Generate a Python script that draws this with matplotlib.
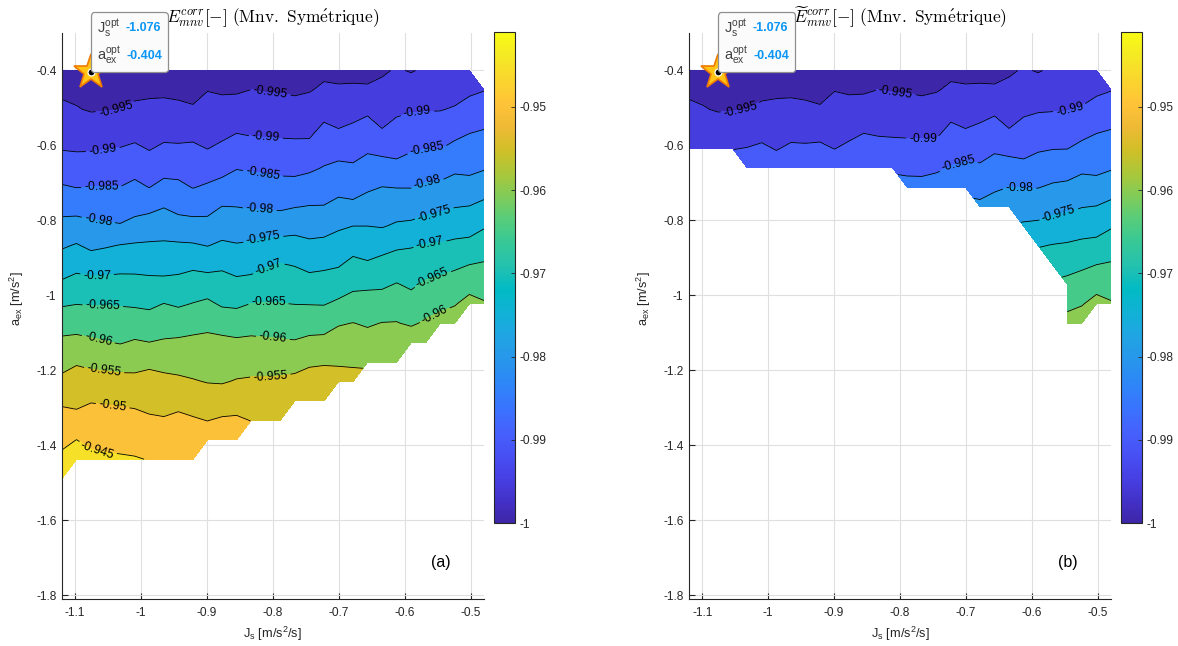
import numpy as np
import matplotlib
matplotlib.use('Agg')
import matplotlib.pyplot as plt
from matplotlib.colors import LinearSegmentedColormap, Normalize
from matplotlib.cm import ScalarMappable
from matplotlib.ticker import FuncFormatter
from matplotlib.offsetbox import TextArea, HPacker, VPacker, AnnotationBbox

plt.rcParams['font.family'] = ['Liberation Sans', 'DejaVu Sans']
plt.rcParams['mathtext.fontset'] = 'custom'
plt.rcParams['mathtext.rm'] = 'Liberation Sans'
plt.rcParams['mathtext.it'] = 'Liberation Sans:italic'
plt.rcParams['mathtext.bf'] = 'Liberation Sans:bold'

# grid of the sweep
js_min, js_max, n_js = -1.12, -0.48, 30
aex_top, aex_bottom, n_aex = -0.4, -1.8, 28

# optimum
js_opt = -1.076
aex_opt = -0.404

# contour line positions (a_ex) at each J_s column
levels = [-0.995, -0.99, -0.985, -0.98, -0.975, -0.97, -0.965, -0.96, -0.955, -0.95, -0.945]
line_995 = [-0.487, -0.499, -0.522, -0.515, -0.504, -0.493, -0.485, -0.485, -0.491, -0.499,
            -0.458, -0.475, -0.475, -0.451, -0.464, -0.468, -0.480, -0.464, -0.440, -0.443,
            -0.443, -0.446, -0.424, -0.390, -0.411, -0.385, -0.370, -0.360, -0.350, -0.350]
line_990 = [-0.615, -0.619, -0.616, -0.611, -0.605, -0.593, -0.615, -0.593, -0.595, -0.586,
            -0.611, -0.590, -0.567, -0.580, -0.581, -0.582, -0.582, -0.586, -0.535, -0.555,
            -0.538, -0.517, -0.555, -0.526, -0.512, -0.511, -0.509, -0.497, -0.472, -0.455]
line_985 = [-0.704, -0.713, -0.710, -0.710, -0.710, -0.689, -0.713, -0.691, -0.691, -0.716,
            -0.700, -0.689, -0.664, -0.669, -0.675, -0.682, -0.686, -0.673, -0.655, -0.639,
            -0.647, -0.622, -0.628, -0.642, -0.619, -0.611, -0.610, -0.587, -0.566, -0.557]
line_980 = [-0.790, -0.789, -0.797, -0.805, -0.811, -0.797, -0.780, -0.766, -0.790, -0.791,
            -0.791, -0.762, -0.764, -0.771, -0.773, -0.778, -0.766, -0.760, -0.760, -0.740,
            -0.749, -0.726, -0.710, -0.713, -0.714, -0.700, -0.694, -0.676, -0.686, -0.669]
line_975 = [-0.877, -0.861, -0.885, -0.873, -0.864, -0.858, -0.855, -0.853, -0.855, -0.860,
            -0.869, -0.855, -0.861, -0.855, -0.846, -0.842, -0.837, -0.849, -0.844, -0.826,
            -0.815, -0.815, -0.822, -0.806, -0.802, -0.789, -0.780, -0.766, -0.761, -0.744]
line_970 = [-0.959, -0.940, -0.944, -0.944, -0.941, -0.942, -0.947, -0.953, -0.944, -0.931,
            -0.940, -0.931, -0.950, -0.947, -0.926, -0.913, -0.922, -0.940, -0.933, -0.926,
            -0.893, -0.909, -0.888, -0.877, -0.871, -0.863, -0.858, -0.850, -0.847, -0.822]
line_965 = [-1.030, -1.024, -1.027, -1.027, -1.028, -1.033, -1.039, -1.021, -1.033, -1.020,
            -1.006, -1.036, -1.037, -1.021, -1.018, -1.020, -1.024, -1.025, -1.027, -1.011,
            -0.992, -0.983, -0.985, -0.966, -0.987, -0.957, -0.944, -0.931, -0.918, -0.908]
line_960 = [-1.104, -1.104, -1.113, -1.122, -1.131, -1.117, -1.125, -1.117, -1.109, -1.100,
            -1.093, -1.095, -1.107, -1.104, -1.110, -1.116, -1.119, -1.107, -1.104, -1.079,
            -1.072, -1.084, -1.071, -1.069, -1.086, -1.064, -1.055, -1.030, -1.008, -1.020]
line_955 = [-1.211, -1.184, -1.196, -1.199, -1.203, -1.206, -1.190, -1.202, -1.215, -1.224,
            -1.235, -1.240, -1.224, -1.217, -1.213, -1.209, -1.206, -1.188, -1.184, -1.195,
            -1.202, -1.205, -1.200, -1.200, -1.150, -1.150, -1.100, -1.100, -1.045, -1.045]
line_950 = [-1.295, -1.311, -1.286, -1.291, -1.295, -1.300, -1.317, -1.320, -1.300, -1.317,
            -1.335, -1.320, -1.317, -1.336, -1.360, -1.360, -1.310, -1.310, -1.310, -1.260,
            -1.260, -1.230, -1.230, -1.230, -1.180, -1.180, -1.130, -1.130, -1.070, -1.070]
line_945 = [-1.393, -1.384, -1.393, -1.397, -1.402, -1.411, -1.440, -1.490, -1.490, -1.490,
            -1.440, -1.440, -1.440, -1.400, -1.400, -1.400, -1.350, -1.350, -1.350, -1.300,
            -1.300, -1.260, -1.260, -1.260, -1.210, -1.210, -1.160, -1.160, -1.100, -1.100]

# extent of the computed points (row index from the top, per J_s column)
left_first = [0] * 29 + [1]
left_last = [21, 20, 20, 20, 20, 20, 20, 20, 20, 20, 19, 19, 19, 18, 18, 18, 17, 17, 17, 16,
             16, 15, 15, 15, 14, 14, 13, 13, 12, 12]
right_first = [0] * 29 + [1]
right_last = [4, 4, 4, 4, 5, 5, 5, 5, 5, 5, 5, 5, 5, 5, 5, 6, 6, 6, 6, 6,
              7, 7, 7, 8, 9, 10, 13, 13, 12, 12]

clim = (-1.0, -0.941)

# MATLAB parula
parula = [(0.2422, 0.1504, 0.6603), (0.2647, 0.1978, 0.7952), (0.2783, 0.2559, 0.8991),
          (0.2810, 0.3228, 0.9579), (0.2699, 0.3892, 0.9906), (0.2206, 0.4603, 0.9973),
          (0.1786, 0.5289, 0.9682), (0.1540, 0.5902, 0.9218), (0.1248, 0.6459, 0.8883),
          (0.0689, 0.6948, 0.8394), (0.0067, 0.7312, 0.7660), (0.1408, 0.7584, 0.6842),
          (0.2161, 0.7843, 0.5923), (0.3406, 0.8008, 0.4789), (0.5044, 0.7993, 0.3480),
          (0.6720, 0.7793, 0.2227), (0.8203, 0.7498, 0.1535), (0.9393, 0.7288, 0.2100),
          (0.9970, 0.7659, 0.2199), (0.9786, 0.8386, 0.1766), (0.9597, 0.9135, 0.1423),
          (0.9769, 0.9839, 0.0805)]
cmap = LinearSegmentedColormap.from_list('parula', parula, N=256)
norm = Normalize(*clim)

js = np.linspace(js_min, js_max, n_js)
aex = np.linspace(aex_top, aex_bottom, n_aex)
lines = np.array([line_995, line_990, line_985, line_980, line_975, line_970,
                  line_965, line_960, line_955, line_950, line_945])

# field on the grid from the level lines
Z = np.empty((n_aex, n_js))
for i in range(n_js):
    xp = np.concatenate(([-2.0], lines[::-1, i], [-0.2]))
    fp = np.concatenate(([-0.94], levels[::-1], [-1.0]))
    Z[:, i] = np.interp(aex, xp, fp)

fill_levels = [-1.0] + levels + [-0.94]
band_colors = [cmap(norm(v)) for v in fill_levels[:-1]]
k = np.arange(n_aex)[:, None]

left_labels = {-0.995: [-1.038, -0.804], -0.99: [-1.058, -0.811, -0.581],
               -0.985: [-1.06, -0.815, -0.566], -0.98: [-1.065, -0.82, -0.566],
               -0.975: [-0.815, -0.555], -0.97: [-1.067, -0.807, -0.562],
               -0.965: [-1.058, -0.807, -0.559], -0.96: [-1.065, -0.8, -0.553],
               -0.955: [-1.056, -0.804], -0.95: [-1.043], -0.945: [-1.065]}
right_labels = {-0.995: [-1.041, -0.807], -0.99: [-0.765, -0.542], -0.985: [-0.712],
                -0.98: [-0.619], -0.975: [-0.559]}

fmt = FuncFormatter(lambda v, p: '%g' % round(v, 3))
dark = '#262626'

fig = plt.figure(figsize=(11.78, 6.46), dpi=100)


def draw_panel(rect, cb_rect, first, last, title, tag, label_pos):
    ax = fig.add_axes(rect)
    valid = (k >= np.array(first)[None, :]) & (k <= np.array(last)[None, :])
    Zm = np.ma.masked_where(~valid, Z)
    ax.contourf(js, aex, Zm, levels=fill_levels, colors=band_colors, zorder=1)
    cs = ax.contour(js, aex, Zm, levels=levels, colors='k', linewidths=0.6,
                    linestyles='solid', zorder=2)
    manual = []
    for lev, xs in label_pos.items():
        row = lines[levels.index(lev)]
        for x in xs:
            manual.append((x, np.interp(x, js, row)))
    ax.clabel(cs, inline=True, inline_spacing=3, fontsize=8.8, fmt='%g', manual=manual)

    ax.set_xlim(-1.12, -0.48)
    ax.set_ylim(-1.81, -0.3)
    ax.set_xticks(np.round(np.arange(-1.1, -0.45, 0.1), 1))
    ax.set_yticks(np.round(np.arange(-1.8, -0.35, 0.2), 1))
    ax.xaxis.set_major_formatter(fmt)
    ax.yaxis.set_major_formatter(fmt)
    ax.grid(True, color='#DFDFDF', linewidth=0.8)
    ax.set_axisbelow(True)
    for s in ['top', 'right']:
        ax.spines[s].set_visible(False)
    for s in ['left', 'bottom']:
        ax.spines[s].set_color(dark)
        ax.spines[s].set_linewidth(0.8)
    ax.tick_params(direction='in', length=4, width=0.8, colors=dark, labelsize=8.6)
    ax.tick_params(axis='y', pad=4)
    ax.tick_params(axis='x', pad=6)
    ax.set_xlabel(r'J$_\mathrm{s}$ [m/s$^\mathrm{2}$/s]', fontsize=9.2, color=dark)
    ax.set_ylabel(r'a$_\mathrm{ex}$ [m/s$^\mathrm{2}$]', fontsize=9.2, color=dark)
    ax.yaxis.set_label_coords(-0.085, 0.53)
    ax.set_title(title, fontsize=12.5, math_fontfamily='cm', pad=8)
    ax.text(0.898, 0.065, tag, transform=ax.transAxes, fontsize=11.5,
            ha='center', va='center', color='k')

    ax.plot(js_opt, aex_opt, marker='*', ms=26, mfc='#FFC414', mec='#F07A00',
            mew=1.2, clip_on=False, zorder=6)
    ax.plot(js_opt, aex_opt, marker='o', ms=5, mfc='k', mec='w', mew=0.9,
            clip_on=False, zorder=7)

    lab = dict(color='#404040', fontsize=10.5)
    val = dict(color='#0A96F5', fontsize=9, weight='bold')
    row1 = HPacker(children=[TextArea(r'J$_\mathrm{s}^\mathrm{opt}$', textprops=lab),
                             TextArea('%.3f' % js_opt, textprops=val)],
                   align='center', pad=0, sep=4)
    row2 = HPacker(children=[TextArea(r'a$_\mathrm{ex}^\mathrm{opt}$', textprops=lab),
                             TextArea('%.3f' % aex_opt, textprops=val)],
                   align='center', pad=0, sep=4)
    box = VPacker(children=[row1, row2], align='left', pad=0, sep=4)
    ab = AnnotationBbox(box, (js_opt, aex_opt), xybox=(4, 4), xycoords='data',
                        boxcoords='offset points', box_alignment=(0, 0), pad=0.4,
                        frameon=True,
                        bboxprops=dict(boxstyle='round,pad=0.4,rounding_size=0.25',
                                       fc='#FBFBFC', ec='#8F8F8F', lw=0.9))
    ab.set_clip_on(False)
    ab.set_zorder(8)
    ax.add_artist(ab)

    cax = fig.add_axes(cb_rect)
    cb = fig.colorbar(ScalarMappable(norm=norm, cmap=cmap), cax=cax)
    cb.set_ticks(np.round(np.arange(-1.0, -0.945, 0.01), 2))
    cb.ax.yaxis.set_major_formatter(fmt)
    cb.ax.tick_params(direction='in', length=3, width=0.6, labelsize=8.6, colors=dark, pad=3)
    cb.outline.set_linewidth(0.8)
    cb.outline.set_edgecolor(dark)
    return ax


draw_panel([0.0526, 0.0727, 0.3582, 0.8762], [0.4194, 0.1904, 0.0178, 0.7600],
           left_first, left_last,
           r'$E^{corr}_{mnv}[-]\ \mathrm{(Mnv.\ Sym\acute{e}trique)}$', '(a)', left_labels)
draw_panel([0.5849, 0.0727, 0.3582, 0.8762], [0.9516, 0.1904, 0.0178, 0.7600],
           right_first, right_last,
           r'$\widetilde{E}^{corr}_{mnv}[-]\ \mathrm{(Mnv.\ Sym\acute{e}trique)}$', '(b)',
           right_labels)

fig.savefig('out.png', dpi=100)
